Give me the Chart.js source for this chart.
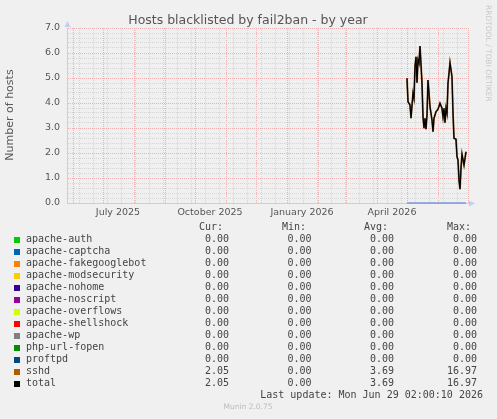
<!DOCTYPE html>
<html>
<head>
<meta charset="utf-8">
<script src="https://cdn.jsdelivr.net/npm/chart.js@4.4.1/dist/chart.umd.min.js"></script>
<style>
  body { margin: 0; background: #f0f0f0; }
  #wrap { position: relative; width: 497px; height: 419px; overflow: hidden; font-family: "DejaVu Sans", sans-serif; }
  #wrap canvas { position: absolute; left: 0; top: 0; }
  .t { position: absolute; white-space: pre; }
  .mono { font-family: "DejaVu Sans Mono", monospace; font-size: 10px; line-height: 12px; color: #444; }
</style>
</head>
<body>
<div id="wrap">
  <canvas id="chart" width="497" height="419"></canvas>
  <div class="t" style="left:0;width:496px;top:12px;text-align:center;font-size:12.5px;line-height:15px;color:#555;">Hosts blacklisted by fail2ban - by year</div>
  <div class="t" style="left:-50px;top:108px;width:120px;height:14px;line-height:14px;text-align:center;font-size:11px;color:#555;transform:rotate(-90deg);">Number of hosts</div>
  <div class="t" style="left:484px;top:5px;writing-mode:vertical-rl;font-size:7.5px;line-height:9px;color:#c8c8c8;">RRDTOOL / TOBI OETIKER</div>
  <div id="legend"></div>
  <div class="t mono" style="right:14px;top:389px;">Last update: Mon Jun 29 02:00:10 2026</div>
  <div class="t" style="left:0;width:496px;top:402px;text-align:center;font-size:7.5px;line-height:10px;color:#bbb;">Munin 2.0.75</div>
</div>
<script>
// x values are days since 2025-05-25
const sshdDays = [341, 342, 344, 345, 347, 348, 349, 350, 351, 352, 353, 354, 356, 357, 358, 359, 360, 361, 362, 364,
  366, 367, 368, 370, 372, 374, 376, 377, 378, 379, 380, 381, 382, 383, 384, 386, 387, 388, 390, 391,
  392, 393, 394, 395, 396, 398, 400];
const sshdHosts = [4.99, 4.05, 3.92, 3.39, 4.39, 4.19, 5.45, 5.85, 4.81, 5.72, 5.59, 6.28, 4.79, 3.45, 2.99, 3.39, 2.95, 3.52, 4.92, 3.85,
  3.32, 2.85, 3.39, 3.65, 3.75, 3.99, 3.79, 3.45, 3.79, 3.21, 3.79, 3.59, 4.79, 5.19, 5.61, 5.05, 3.59, 2.59, 2.55, 1.85,
  1.72, 0.92, 0.55, 1.39, 1.95, 1.52, 2.05];
// every other jail stays at zero
const zeroDays = [341, 400];
const zeroHosts = [0, 0];

const monthStarts = [7, 37, 68, 99, 129, 160, 190, 221, 252, 280, 311, 341, 372, 402];
const monthLabelDays = [52, 144, 236, 326];
const monthLabels = ["July 2025", "October 2025", "January 2026", "April 2026"];

const seriesNames = ["apache-auth", "apache-captcha", "apache-fakegooglebot", "apache-modsecurity", "apache-nohome",
  "apache-noscript", "apache-overflows", "apache-shellshock", "apache-wp", "php-url-fopen", "proftpd", "sshd", "total"];
const seriesColors = ["#00CC00", "#0066B3", "#FF8000", "#FFCC00", "#330099", "#990099", "#CCFF00", "#FF0000",
  "#808080", "#008F00", "#00487D", "#B35A00", "#000000"];
const curValues = [0, 0, 0, 0, 0, 0, 0, 0, 0, 0, 0, 2.05, 2.05];
const minValues = [0, 0, 0, 0, 0, 0, 0, 0, 0, 0, 0, 0, 0];
const avgValues = [0, 0, 0, 0, 0, 0, 0, 0, 0, 0, 0, 3.69, 3.69];
const maxValues = [0, 0, 0, 0, 0, 0, 0, 0, 0, 0, 0, 16.97, 16.97];

const RED = "#edb0b0";
const GRAY = "#d6d6d6";
const AXIS = "#c6cdf2";

// x ticks: month starts (red), fortnight lines (gray), label positions (no line)
const xTicks = [];
const xKinds = [];
const xText = [];
for (let d = 13; d < 402; d += 14) { xTicks.push(d); xKinds.push("minor"); xText.push(""); }
monthStarts.forEach(d => { xTicks.push(d); xKinds.push("major"); xText.push(""); });
monthLabelDays.forEach((d, i) => { xTicks.push(d); xKinds.push("label"); xText.push(monthLabels[i]); });

const yTicks = [];
for (let i = 0; i <= 35; i++) yTicks.push(i / 5);

const axisArrows = {
  id: "axisArrows",
  afterDraw(chart) {
    const { ctx, chartArea: a } = chart;
    const x0 = Math.round(a.left) + 0.5;
    const y0 = Math.round(a.bottom) + 0.5;
    ctx.save();
    ctx.fillStyle = AXIS;
    ctx.beginPath();
    ctx.moveTo(x0 - 3, a.top - 1);
    ctx.lineTo(x0 + 3, a.top - 1);
    ctx.lineTo(x0, a.top - 7);
    ctx.closePath();
    ctx.fill();
    ctx.beginPath();
    ctx.moveTo(a.right + 1, y0 - 3);
    ctx.lineTo(a.right + 1, y0 + 3);
    ctx.lineTo(a.right + 7, y0);
    ctx.closePath();
    ctx.fill();
    ctx.restore();
  }
};

new Chart(document.getElementById("chart"), {
  type: "line",
  data: {
    datasets: [{
      label: "total",
      data: sshdDays.map((d, i) => ({ x: d, y: sshdHosts[i] })),
      borderColor: "#000000",
      borderWidth: 1.2,
      pointRadius: 0,
      tension: 0
    }, {
      label: "sshd",
      data: sshdDays.map((d, i) => ({ x: d, y: sshdHosts[i] })),
      borderColor: "#8a5a2a",
      borderWidth: 1.8,
      pointRadius: 0,
      tension: 0
    }, {
      label: "others",
      data: zeroDays.map((d, i) => ({ x: d, y: zeroHosts[i] })),
      borderColor: "#7f96da",
      borderWidth: 1.5,
      pointRadius: 0,
      clip: false
    }]
  },
  options: {
    responsive: false,
    animation: false,
    devicePixelRatio: 1,
    layout: { padding: { top: 28, right: 29, left: 0, bottom: 0 } },
    plugins: { legend: { display: false }, tooltip: { enabled: false }, title: { display: false } },
    scales: {
      x: {
        type: "linear",
        min: 1,
        max: 402,
        afterFit: s => { s.height = 216; },
        afterBuildTicks: s => { s.ticks = xTicks.map(v => ({ value: v })); },
        ticks: {
          autoSkip: false,
          maxRotation: 0,
          padding: 4,
          color: "#555",
          font: { family: "DejaVu Sans", size: 9.5 },
          callback: (v, i) => xText[i]
        },
        grid: {
          drawTicks: false,
          lineWidth: 1,
          color: c => xKinds[c.index] === "major" ? RED : (xKinds[c.index] === "minor" ? GRAY : "rgba(0,0,0,0)")
        },
        border: { color: AXIS, width: 1, dash: [1, 1] }
      },
      y: {
        min: 0,
        max: 7,
        afterFit: s => { s.width = 67; },
        afterBuildTicks: s => { s.ticks = yTicks.map(v => ({ value: v })); },
        ticks: {
          autoSkip: false,
          padding: 7,
          color: "#555",
          font: { family: "DejaVu Sans", size: 9.5 },
          callback: v => Math.abs(v - Math.round(v)) < 1e-6 ? v.toFixed(1) : ""
        },
        grid: {
          drawTicks: false,
          lineWidth: 1,
          color: c => Math.abs(c.tick.value - Math.round(c.tick.value)) < 1e-6 ? RED : GRAY
        },
        border: { color: AXIS, width: 1, dash: [1, 1] }
      }
    }
  },
  plugins: [axisArrows]
});

// legend table
const legend = document.getElementById("legend");
let html = "";
const headers = ["Cur:", "Min:", "Avg:", "Max:"];
const headerLeft = [199, 282, 364, 447];
const valueRight = [229, 311.5, 394, 477];
headers.forEach((h, i) => {
  html += `<div class="t mono" style="left:${headerLeft[i]}px;top:221px;">${h}</div>`;
});
seriesNames.forEach((name, i) => {
  const top = 233 + 12 * i;
  html += `<div class="t" style="left:14px;top:${top + 3.5}px;width:6px;height:6px;background:${seriesColors[i]};"></div>`;
  html += `<div class="t mono" style="left:26px;top:${top}px;">${name}</div>`;
  [curValues, minValues, avgValues, maxValues].forEach((vals, c) => {
    html += `<div class="t mono" style="right:${497 - valueRight[c]}px;top:${top}px;text-align:right;">${vals[i].toFixed(2)}</div>`;
  });
});
legend.innerHTML = html;
</script>
</body>
</html>
